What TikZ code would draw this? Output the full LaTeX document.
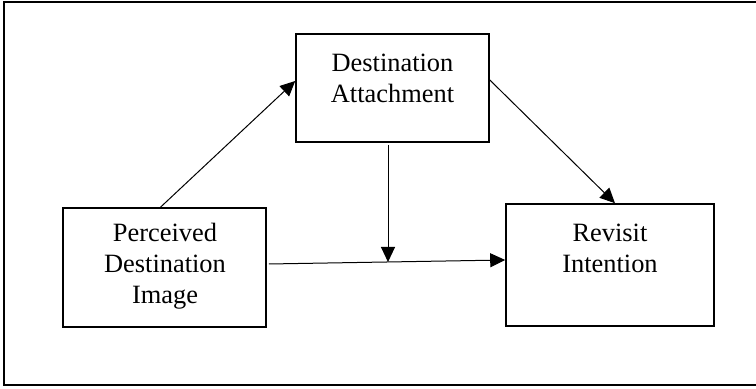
\documentclass[tikz,border=0pt]{standalone}
\usepackage{fontspec}
\setmainfont{Liberation Serif}
\usetikzlibrary{arrows.meta,calc}
\begin{document}
\begin{tikzpicture}[x=0.5pt,y=-0.5pt,
  box/.style={draw, line width=0.8pt, minimum width=#1, inner sep=0pt},
  lbl/.style={align=center, font=\fontsize{13.2}{15.5}\selectfont, inner sep=0pt},
  conn/.style={line width=0.5pt, -{Triangle[length=7.5pt,width=7pt]}}]
\useasboundingbox (0,0) rectangle (756,389);
\clip (0,0) rectangle (756,389);
\draw[line width=1pt] (4,2.5) rectangle (770,385.5);
\node[box=96.5pt, minimum height=54pt] (att) at (392.5,88) {};
\node[lbl] (attt) at (392.5,78) {Destination\\Attachment};
\node[box=101.5pt, minimum height=59.5pt] (pdi) at (164.5,267.5) {};
\node[lbl] (pdit) at (165,266.5) {Perceived\\Destination\\Image};
\node[box=104pt, minimum height=61pt] (ri) at (610,265) {};
\node[lbl] (rit) at (610,248) {Revisit\\Intention};
\coordinate (mid) at (388,262);
\draw[conn] ($(pdi.north)+(-4,0)$) -- (att.west |- 0,81);
\draw[conn] (att.east |- 0,80) -- ($(ri.north)+(5,0)$);
\draw[conn] ($(att.south -| mid)+(0,2)$) -- (mid);
\draw[conn] ($(pdi.east |- 0,264)+(2,0)$) -- (ri.west |- 0,260);
\end{tikzpicture}
\end{document}
